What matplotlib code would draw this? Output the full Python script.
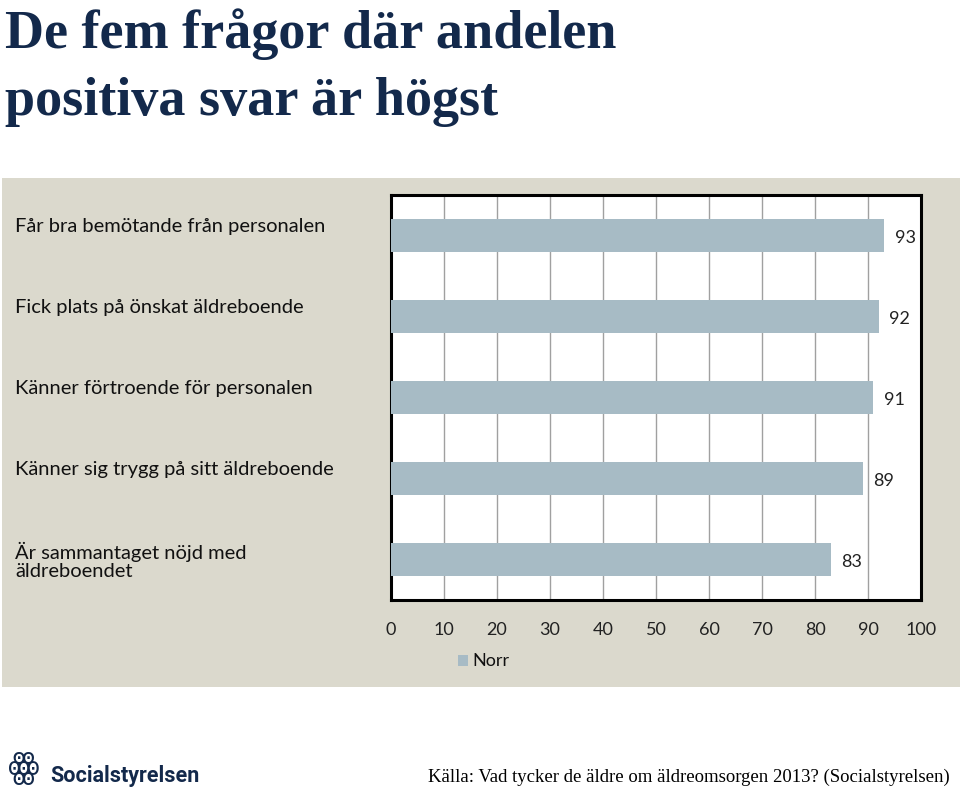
import matplotlib
matplotlib.use("Agg")
import matplotlib.pyplot as plt
from matplotlib.patches import Rectangle

# data
categories = [
    "Får bra bemötande från personalen",
    "Fick plats på önskat äldreboende",
    "Känner förtroende för personalen",
    "Känner sig trygg på sitt äldreboende",
    "Är sammantaget nöjd med\näldreboendet",
]
values = [93, 92, 91, 89, 83]
xticks = [0, 10, 20, 30, 40, 50, 60, 70, 80, 90, 100]
series_name = "Norr"

panel_color = "#dbd9cd"
bar_color = "#a7bbc5"
navy = "#13294b"
label_font = "Lato"

fig = plt.figure(figsize=(9.6, 7.92), dpi=100)
fig.patch.set_facecolor("white")

# grey panel behind the chart
fig.patches.append(Rectangle((2 / 960, 1 - 687 / 792), 958 / 960, 509 / 792,
                             transform=fig.transFigure, facecolor=panel_color,
                             edgecolor="none", zorder=-5))

ax = fig.add_axes([391 / 960, 1 - 600 / 792, 530 / 960, 405 / 792])
ax.set_zorder(2)
ax.set_facecolor("white")
ypos = list(range(len(categories)))
ax.barh(ypos, values, height=0.4, color=bar_color, zorder=3)
ax.set_xlim(0, 100)
ax.set_ylim(len(categories) - 0.5, -0.5)
ax.set_xticks(xticks)
ax.set_yticks([])
ax.grid(axis="x", color="#a0a0a0", linewidth=1, zorder=1)
ax.tick_params(axis="x", length=0, pad=16, labelsize=13, colors="#222222")
for lab in ax.get_xticklabels():
    lab.set_fontfamily(label_font)
for s in ax.spines.values():
    s.set_linewidth(2.2)
    s.set_color("black")

for y, v in zip(ypos, values):
    ax.text(v + 2.0, y + 0.03, str(v), va="center", ha="left", fontsize=13,
            family=label_font, color="#222222", zorder=4)

# category labels on the left of the panel
trans = matplotlib.transforms.blended_transform_factory(fig.transFigure, ax.transData)
for y, c in zip(ypos, categories):
    ax.text(15 / 960, y - 0.22, c, transform=trans, ha="left", va="top",
            fontsize=14.5, family=label_font, color="#111111", linespacing=1.1,
            clip_on=False)

# legend
fig.patches.append(Rectangle((458 / 960, 1 - 666 / 792), 10 / 960, 11 / 792,
                             transform=fig.transFigure, facecolor=bar_color,
                             edgecolor="none", zorder=2))
fig.text(472 / 960, 1 - 661 / 792, series_name, fontsize=13, family=label_font,
         va="center", ha="left", color="#111111")

# title
fig.text(5 / 960, 1 - 48 / 792, "De fem frågor där andelen", fontsize=39,
         family="Liberation Serif", weight="bold", color=navy, va="baseline")
fig.text(5 / 960, 1 - 115 / 792, "positiva svar är högst", fontsize=39,
         family="Liberation Serif", weight="bold", color=navy, va="baseline")

# footer
fig.text(50 / 960, 1 - 776 / 792, "Socialstyrelsen", fontsize=15.5,
         family="Roboto", weight="bold", color=navy, va="center")
fig.text(8 / 960, 1 - 768 / 792, "ꙮ", fontsize=26, family="DejaVu Sans",
         color=navy, va="center")
fig.text(950 / 960, 1 - 777 / 792,
         "Källa: Vad tycker de äldre om äldreomsorgen 2013? (Socialstyrelsen)",
         fontsize=13.5, family="Liberation Serif", color="black", ha="right",
         va="center")

fig.savefig("out.png", dpi=100)
